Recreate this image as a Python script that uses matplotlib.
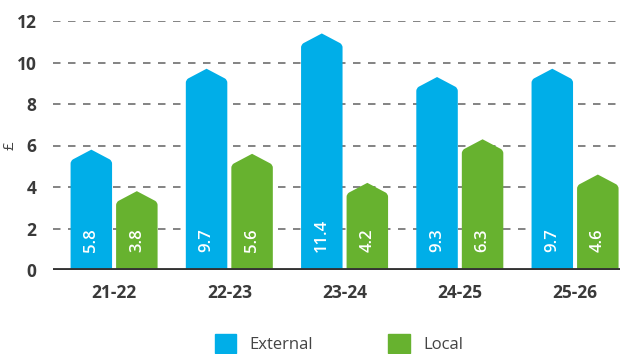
import matplotlib
matplotlib.use("Agg")
import matplotlib.pyplot as plt
from matplotlib.path import Path
from matplotlib.patches import PathPatch, Rectangle

plt.rcParams['font.family'] = ['Open Sans', 'DejaVu Sans']

periods = ["21-22", "22-23", "23-24", "24-25", "25-26"]
external = [5.8, 9.7, 11.4, 9.3, 9.7]
local = [3.8, 5.6, 4.2, 6.3, 4.6]
series_names = ["External", "Local"]
colors = ["#00aee8", "#67b22f"]
yticks = [0, 2, 4, 6, 8, 10, 12]

fig = plt.figure(figsize=(6.2, 3.54), dpi=100)
ax = fig.add_axes([53 / 620, 84 / 354, 567 / 620, 249 / 354])

bar_w = 0.36
gap = 0.035
roof = 0.55      # height of the pointed top, in data units
corner = 0.12    # softening of the shoulders


def house_bar(ax, xc, value, width, color):
    x0, x1 = xc - width / 2, xc + width / 2
    s = value - roof
    verts = [
        (x0, 0), (x1, 0), (x1, s - corner),
        (x1, s), (x1 - 0.02, s + 0.08),
        (xc, value),
        (x0 + 0.02, s + 0.08), (x0, s),
        (x0, s - corner), (x0, 0),
    ]
    codes = [Path.MOVETO, Path.LINETO, Path.LINETO,
             Path.CURVE3, Path.CURVE3,
             Path.LINETO,
             Path.LINETO, Path.CURVE3,
             Path.CURVE3, Path.CLOSEPOLY]
    ax.add_patch(PathPatch(Path(verts, codes), facecolor=color,
                           edgecolor='none', zorder=3))


for i, (e, l) in enumerate(zip(external, local)):
    xe = i - (bar_w + gap) / 2
    xl = i + (bar_w + gap) / 2
    house_bar(ax, xe, e, bar_w, colors[0])
    house_bar(ax, xl, l, bar_w, colors[1])
    for x, v in ((xe, e), (xl, l)):
        ax.text(x, 0.85, f"{v:.1f}", rotation=90, ha='center', va='bottom',
                color='white', fontsize=12, fontweight='semibold', zorder=4)

ax.set_xlim(-0.53, 4.39)
ax.set_ylim(0, 12)

for y in yticks[1:]:
    ax.axhline(y, color='#6e6e6e', lw=1.2, ls=(0, (4.5, 4.5)), zorder=1)
ax.axhline(0, color='#333333', lw=3.5, zorder=5, xmax=(618 - 53) / 567)

ax.set_yticks(yticks)
ax.set_yticklabels([str(t) for t in yticks], fontsize=12.5,
                   fontweight='bold', color='#3a3a3a')
ax.set_xticks(range(len(periods)))
ax.set_xticklabels(periods, fontsize=12.5, fontweight='bold', color='#3a3a3a')
ax.tick_params(length=0)
ax.tick_params(axis='y', pad=12)
ax.tick_params(axis='x', pad=10)
for sp in ax.spines.values():
    sp.set_visible(False)

fig.text(10 / 620, 1 - 146 / 354, "£", rotation=90, ha='center', va='center',
         fontsize=11, color='#444444')

# legend
handles = [Rectangle((0, 0), 1, 1, color=c) for c in colors]
leg = fig.legend(handles, series_names, loc='lower center',
                 bbox_to_anchor=(0.547, -0.04), ncol=2, frameon=False,
                 fontsize=12, handlelength=1.3, handleheight=1.3,
                 columnspacing=4.5, handletextpad=0.8)
for t in leg.get_texts():
    t.set_color('#444444')

fig.savefig("out.png", dpi=100)
